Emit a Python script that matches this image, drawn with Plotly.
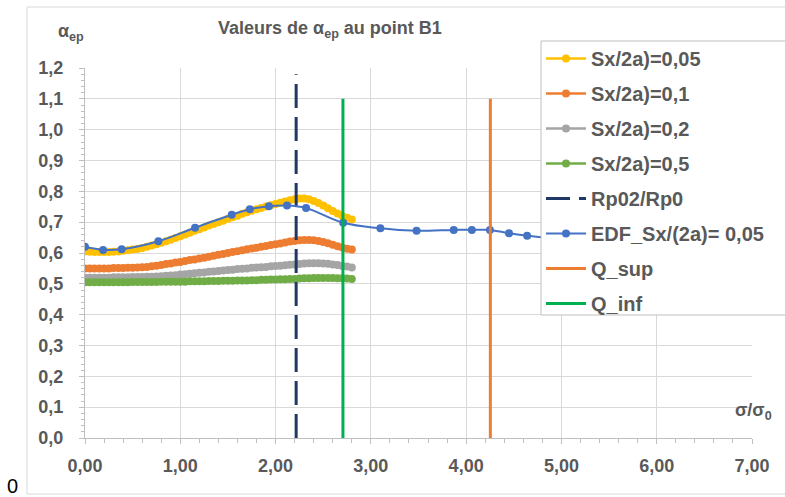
import plotly.graph_objects as go

# ---------------- data ----------------
x_dense = [0.00, 0.05, 0.10, 0.15, 0.20, 0.25, 0.30, 0.35, 0.40, 0.45,
           0.50, 0.55, 0.60, 0.65, 0.70, 0.75, 0.80, 0.85, 0.90, 0.95,
           1.00, 1.05, 1.10, 1.15, 1.20, 1.25, 1.30, 1.35, 1.40, 1.45,
           1.50, 1.55, 1.60, 1.65, 1.70, 1.75, 1.80, 1.85, 1.90, 1.95,
           2.00, 2.05, 2.10, 2.15, 2.20, 2.25, 2.30, 2.35, 2.40, 2.45,
           2.50, 2.55, 2.60, 2.65, 2.70, 2.75, 2.80]

s_005 = [0.605, 0.604, 0.603, 0.603, 0.603, 0.603, 0.604, 0.605, 0.607, 0.609,
         0.611, 0.613, 0.616, 0.620, 0.624, 0.628, 0.633, 0.638, 0.643, 0.649,
         0.654, 0.660, 0.666, 0.672, 0.677, 0.683, 0.689, 0.694, 0.700, 0.705,
         0.711, 0.716, 0.721, 0.727, 0.732, 0.737, 0.742, 0.746, 0.751, 0.755,
         0.759, 0.763, 0.767, 0.771, 0.774, 0.777, 0.777, 0.774, 0.769, 0.762,
         0.754, 0.745, 0.736, 0.728, 0.720, 0.714, 0.709]

s_01 = [0.550, 0.550, 0.550, 0.550, 0.550, 0.550, 0.551, 0.551, 0.551, 0.552,
        0.552, 0.553, 0.554, 0.555, 0.557, 0.559, 0.561, 0.564, 0.566, 0.569,
        0.571, 0.574, 0.577, 0.579, 0.582, 0.585, 0.588, 0.591, 0.594, 0.597,
        0.600, 0.603, 0.606, 0.609, 0.612, 0.615, 0.617, 0.620, 0.623, 0.626,
        0.628, 0.631, 0.634, 0.637, 0.639, 0.641, 0.642, 0.642, 0.641, 0.639,
        0.636, 0.632, 0.627, 0.622, 0.618, 0.614, 0.611]

s_02 = [0.520, 0.520, 0.520, 0.520, 0.520, 0.520, 0.521, 0.521, 0.521, 0.521,
        0.522, 0.522, 0.522, 0.523, 0.523, 0.524, 0.525, 0.526, 0.527, 0.528,
        0.530, 0.531, 0.533, 0.534, 0.536, 0.537, 0.539, 0.540, 0.542, 0.543,
        0.545, 0.546, 0.548, 0.549, 0.550, 0.552, 0.553, 0.554, 0.555, 0.557,
        0.558, 0.559, 0.560, 0.562, 0.563, 0.564, 0.566, 0.567, 0.567, 0.567,
        0.566, 0.565, 0.563, 0.561, 0.558, 0.556, 0.553]

s_05 = [0.505, 0.505, 0.505, 0.505, 0.505, 0.505, 0.505, 0.505, 0.505, 0.505,
        0.506, 0.506, 0.506, 0.506, 0.506, 0.506, 0.507, 0.507, 0.507, 0.507,
        0.507, 0.507, 0.508, 0.508, 0.508, 0.508, 0.509, 0.509, 0.509, 0.510,
        0.510, 0.510, 0.511, 0.511, 0.511, 0.512, 0.512, 0.513, 0.513, 0.514,
        0.514, 0.515, 0.515, 0.516, 0.516, 0.517, 0.518, 0.518, 0.519, 0.519,
        0.519, 0.519, 0.519, 0.518, 0.518, 0.517, 0.516]

edf_x = [0.00, 0.19, 0.385, 0.77, 1.155, 1.54, 1.73, 1.93, 2.12, 2.32,
         2.71, 3.10, 3.48, 3.87, 4.06, 4.25, 4.45, 4.64, 4.83, 5.02]
edf_y = [0.620, 0.610, 0.612, 0.638, 0.682, 0.724, 0.742, 0.752, 0.754, 0.746,
         0.698, 0.680, 0.672, 0.675, 0.675, 0.675, 0.664, 0.656, 0.650, 0.645]

rp02_x = [2.216, 2.216]
rp02_y = [0.0, 1.18]
qsup_x = [4.254, 4.254]
qsup_y = [0.0, 1.10]
qinf_x = [2.707, 2.707]
qinf_y = [0.0, 1.10]

names = ["Sx/2a)=0,05", "Sx/2a)=0,1", "Sx/2a)=0,2", "Sx/2a)=0,5",
         "Rp02/Rp0", "EDF_Sx/(2a)= 0,05", "Q_sup", "Q_inf"]

x_ticks = [0, 1, 2, 3, 4, 5, 6, 7]
y_ticks = [0.0, 0.1, 0.2, 0.3, 0.4, 0.5, 0.6, 0.7, 0.8, 0.9, 1.0, 1.1, 1.2]

# ---------------- figure ----------------
FONT = "Liberation Sans, Arial, sans-serif"
GREY_TXT = "#595959"

fig = go.Figure()

dense = [(s_005, "#FFC000"), (s_01, "#ED7D31"), (s_02, "#A5A5A5"), (s_05, "#70AD47")]
for i, (ys, col) in enumerate(dense):
    fig.add_trace(go.Scatter(x=x_dense, y=ys, name=names[i], legendgroup=f"g{i}",
                             mode="lines+markers",
                             line=dict(color=col, width=2.5),
                             marker=dict(color=col, size=8)))

fig.add_trace(go.Scatter(x=rp02_x, y=rp02_y, name=names[4], legendgroup="g4",
                         mode="lines", line=dict(color="#1F3864", width=3, dash="24px,9px")))

fig.add_trace(go.Scatter(x=edf_x, y=edf_y, name=names[5], legendgroup="g5",
                         mode="lines+markers",
                         line=dict(color="#4472C4", width=2, shape="spline"),
                         marker=dict(color="#4472C4", size=8)))

fig.add_trace(go.Scatter(x=qsup_x, y=qsup_y, name=names[6], legendgroup="g6",
                         mode="lines", line=dict(color="#ED7D31", width=3)))
fig.add_trace(go.Scatter(x=qinf_x, y=qinf_y, name=names[7], legendgroup="g7",
                         mode="lines", line=dict(color="#00B050", width=3)))

L, R, T, B = 85, 33, 68, 59
W, H = 785, 497
pw, ph = W - L - R, H - T - B


def px2paper(x, y):
    return (x - L) / pw, (H - B - y) / ph


# outer chart frame
fx0, fy0 = px2paper(27, 7)
fx1, fy1 = px2paper(800, 494)
fig.add_shape(type="rect", xref="paper", yref="paper", x0=fx0, y0=fy1, x1=fx1, y1=fy0,
              line=dict(color="#D9D9D9", width=1), layer="below")

# legend box (extends past the right edge like the reference)
bx0, by0 = px2paper(541, 41)
bx1, by1 = px2paper(800, 315)
fig.add_shape(type="rect", xref="paper", yref="paper", x0=bx0, y0=by1, x1=bx1, y1=by0,
              line=dict(color="#BFBFBF", width=1), fillcolor="white", layer="above")

tx, ty = px2paper(330, 30)
fig.add_annotation(xref="paper", yref="paper", x=tx, y=ty, showarrow=False,
                   xanchor="center", yanchor="middle",
                   text="Valeurs de α<sub>ep</sub> au point B1",
                   font=dict(family=FONT, size=18, color=GREY_TXT, weight="bold"))
ax_, ay_ = px2paper(71, 32)
fig.add_annotation(xref="paper", yref="paper", x=ax_, y=ay_, showarrow=False,
                   xanchor="center", yanchor="middle",
                   text="α<sub>ep</sub>",
                   font=dict(family=FONT, size=18, color=GREY_TXT, weight="bold"))
sx, sy = px2paper(774, 411)
fig.add_annotation(xref="paper", yref="paper", x=sx, y=sy, showarrow=False,
                   xanchor="right", yanchor="middle", text="σ/σ<sub>0</sub>",
                   font=dict(family=FONT, size=18, color=GREY_TXT, weight="bold"))
zx, zy = px2paper(12, 486)
fig.add_annotation(xref="paper", yref="paper", x=zx, y=zy, showarrow=False,
                   xanchor="center", yanchor="middle",
                   text="0", font=dict(family=FONT, size=20, color="#000000"))

lx, ly = px2paper(541, 39)

fig.update_layout(
    width=W, height=H,
    margin=dict(l=L, r=R, t=T, b=B, autoexpand=False),
    paper_bgcolor="white", plot_bgcolor="white",
    separators=", ",
    font=dict(family=FONT, color=GREY_TXT),
    showlegend=True,
    legend=dict(x=lx, y=ly, xanchor="left", yanchor="top",
                bgcolor="rgba(0,0,0,0)", borderwidth=0,
                font=dict(family=FONT, size=20, color=GREY_TXT, weight="bold"),
                traceorder="grouped", tracegroupgap=6, itemwidth=40,
                maxheight=400),
    xaxis=dict(range=[0, 7], tickvals=x_ticks, tickformat=".2f",
               showgrid=True, gridcolor="#D9D9D9", gridwidth=1,
               showline=True, linecolor="#BFBFBF", linewidth=1,
               ticks="outside", ticklen=5, tickcolor="#BFBFBF",
               ticklabelstandoff=6,
               minor=dict(dtick=0.2, ticks="outside", ticklen=4, tickcolor="#BFBFBF", showgrid=False),
               tickfont=dict(family=FONT, size=18, color=GREY_TXT, weight="bold"),
               zeroline=False),
    yaxis=dict(range=[0, 1.2], tickvals=y_ticks, tickformat=".1f",
               showgrid=True, gridcolor="#D9D9D9", gridwidth=1,
               showline=True, linecolor="#BFBFBF", linewidth=1,
               ticks="outside", ticklen=5, tickcolor="#BFBFBF",
               ticklabelstandoff=12,
               minor=dict(dtick=0.02, ticks="outside", ticklen=3, tickcolor="#BFBFBF", showgrid=False),
               tickfont=dict(family=FONT, size=18, color=GREY_TXT, weight="bold"),
               zeroline=False),
)

fig.write_html("out.html", config={"displayModeBar": False},
               post_script="document.body.style.margin='0';document.body.style.overflow='hidden';")
